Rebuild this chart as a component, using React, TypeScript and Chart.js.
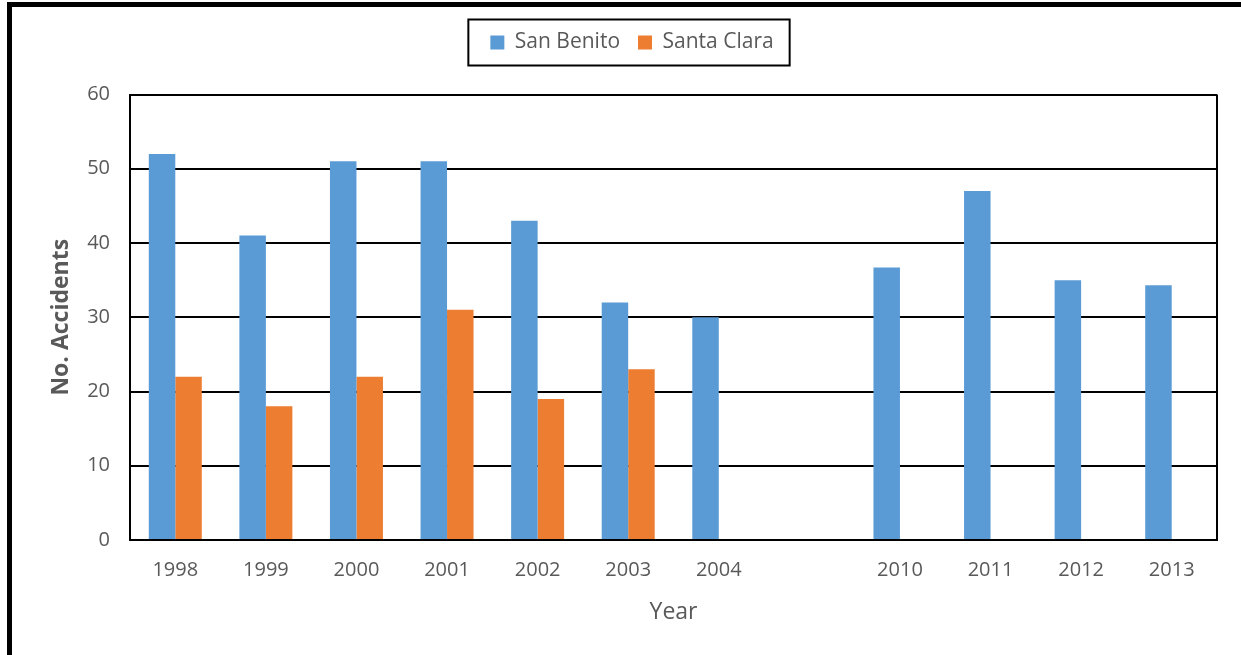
import React, { useEffect, useRef } from "react";
import { Chart, registerables } from "chart.js";

Chart.register(...registerables);

const categories = ["1998", "1999", "2000", "2001", "2002", "2003", "2004", "", "2010", "2011", "2012", "2013"];
const sanBenito = [52, 41, 51, 51, 43, 32, 30, null, 36.7, 47, 35, 34.3];
const santaClara = [22, 18, 22, 31, 19, 23, null, null, null, null, null, null];
const yTicks = [0, 10, 20, 30, 40, 50, 60];

const FONT = "'Open Sans', 'Noto Sans', sans-serif";
const GREY = "#595959";

const framePlugin = {
  id: "frameAndBoxes",
  beforeDatasetsDraw(chart: any) {
    const { ctx, chartArea } = chart;
    ctx.save();
    ctx.strokeStyle = "#000";
    ctx.lineWidth = 2;
    ctx.beginPath();
    ctx.moveTo(chartArea.right, chartArea.top);
    ctx.lineTo(chartArea.right, chartArea.bottom);
    ctx.stroke();
    ctx.restore();
  },
  afterDraw(chart: any) {
    const { ctx } = chart;
    ctx.save();
    ctx.fillStyle = "#000";
    ctx.fillRect(7, 2, chart.width, 5);
    ctx.fillRect(7, 2, 5, chart.height);
    const boxes = chart.legend && chart.legend.legendHitBoxes;
    if (boxes && boxes.length) {
      const first = boxes[0];
      const last = boxes[boxes.length - 1];
      const cy = first.top + first.height / 2;
      ctx.strokeStyle = "#000";
      ctx.lineWidth = 2;
      ctx.strokeRect(first.left - 22, cy - 23, last.left + last.width - first.left + 38, 46);
    }
    ctx.restore();
  },
};

export default function App() {
  const ref = useRef<HTMLCanvasElement>(null);
  useEffect(() => {
    if (!ref.current) return;
    const chart = new Chart(ref.current, {
      type: "bar",
      data: {
        labels: categories,
        datasets: [
          { label: "San Benito", data: sanBenito, backgroundColor: "#5B9BD5", categoryPercentage: 0.585, barPercentage: 1 },
          { label: "Santa Clara", data: santaClara, backgroundColor: "#ED7D31", categoryPercentage: 0.585, barPercentage: 1 },
        ],
      },
      options: {
        animation: false,
        responsive: false,
        maintainAspectRatio: false,
        layout: { padding: { left: 47, right: 24, top: 14, bottom: 10 } },
        plugins: {
          legend: {
            position: "top",
            labels: {
              boxWidth: 14,
              boxHeight: 14,
              padding: 18,
              color: GREY,
              font: { family: FONT, size: 21 },
            },
          },
          subtitle: {
            display: true,
            text: "",
            weight: 500,
            font: { size: 10, lineHeight: 1.2 },
            padding: { top: 0, bottom: 19.5 },
          },
          tooltip: { enabled: false },
        },
        scales: {
          x: {
            grid: { display: false, drawTicks: false },
            border: { display: true, color: "#000", width: 2 },
            ticks: { color: GREY, font: { family: FONT, size: 20 }, padding: 18, maxRotation: 0, autoSkip: false },
            title: { display: true, text: "Year", color: GREY, font: { family: FONT, size: 23, weight: "500" }, padding: { top: 0, bottom: 19 } },
            afterFit: (s: any) => { s.height = 105; },
          },
          y: {
            min: 0,
            max: 60,
            afterBuildTicks: (s: any) => { s.ticks = yTicks.map((v) => ({ value: v })); },
            grid: { color: "#000", lineWidth: 2, drawTicks: false },
            border: { display: true, color: "#000", width: 2 },
            ticks: { color: GREY, font: { family: FONT, size: 20 }, padding: 20 },
            title: { display: true, text: "No. Accidents", color: GREY, font: { family: FONT, size: 23, weight: "bold" }, padding: { top: 1, bottom: 0 } },
            afterFit: (s: any) => { s.width = 83; },
          },
        },
      },
      plugins: [framePlugin],
    });
    return () => chart.destroy();
  }, []);
  return (
    <div style={{ position: "fixed", left: 0, top: 0, width: 1241, height: 655, background: "#fff" }}>
      <canvas ref={ref} width={1241} height={655} style={{ width: 1241, height: 655 }} />
    </div>
  );
}
